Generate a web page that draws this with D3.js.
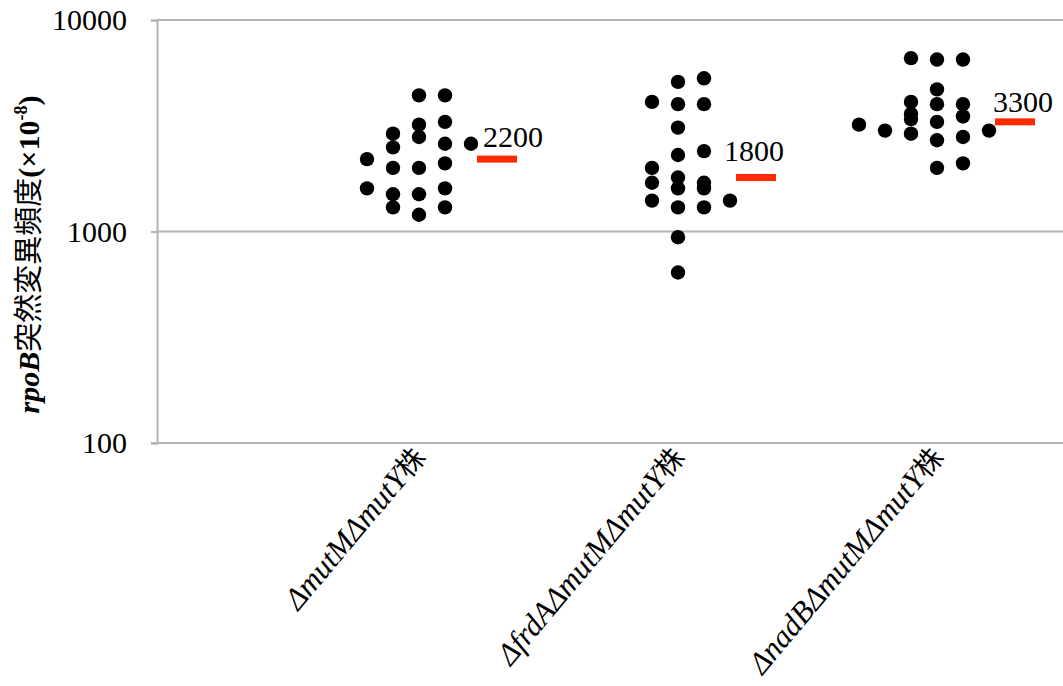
<!DOCTYPE html>
<html><head><meta charset="utf-8">
<script src="https://cdn.jsdelivr.net/npm/d3@7"></script>
<style>body{margin:0;background:#fff}svg{display:block}</style>
</head><body>
<script>
// ---- data ----
const categories = ["ΔmutMΔmutY", "ΔfrdAΔmutMΔmutY", "ΔnadBΔmutMΔmutY"];
const categorySuffix = "株";
const yTicks = [100, 1000, 10000];
const values1 = [2200,1600, 2900,2500,2000,1500,1300, 4400,3200,2800,2000,1500,1200, 4400,3300,2600,2100,1600,1300, 2600];
const slots1  = [-2,-2, -1,-1,-1,-1,-1, 0,0,0,0,0,0, 1,1,1,1,1,1, 2];
const values2 = [4100,2000,1700,1400, 5100,4000,3100,2300,1800,1600,1300,940,640, 5300,4000,2400,1700,1600,1300, 1400];
const slots2  = [-1,-1,-1,-1, 0,0,0,0,0,0,0,0,0, 1,1,1,1,1,1, 2];
const values3 = [3200, 3000, 6600,4100,3600,3400,2900, 6500,4700,4000,3300,2700,2000, 6500,4000,3500,2800,2100, 3000];
const slots3  = [-3, -2, -1,-1,-1,-1,-1, 0,0,0,0,0,0, 1,1,1,1,1, 2];
const summary = [2200, 1800, 3300];
const summaryLabels = ["2200", "1800", "3300"];

// ---- layout ----
const W = 1063, H = 686;
const mLeft = 157, mRight = 1063, mTop = 20, mBottom = 443;
const svg = d3.select("body").append("svg").attr("width", W).attr("height", H);

const x = d3.scalePoint().domain(categories).range([419, 937]);
const y = d3.scaleLog().domain([100, 10000]).range([mBottom, mTop]);
const slotW = 26;

// gridlines
svg.append("g").selectAll("line").data(yTicks.slice(1)).join("line")
  .attr("x1", mLeft).attr("x2", mRight)
  .attr("y1", d => y(d)).attr("y2", d => y(d))
  .attr("stroke", "#b3b3b3").attr("stroke-width", 2);

// y axis
const yAxis = svg.append("g").attr("transform", `translate(${mLeft},0)`)
  .call(d3.axisLeft(y).tickValues(yTicks).tickFormat(d3.format("d")).tickSize(6).tickPadding(24));
yAxis.select(".domain").attr("stroke", "#b3b3b3").attr("stroke-width", 2);
yAxis.selectAll(".tick line").attr("stroke", "#b3b3b3").attr("stroke-width", 2);
yAxis.selectAll(".tick text").attr("font-family", "'Liberation Serif', 'Times New Roman', serif")
  .attr("font-size", 30).attr("fill", "#000");

// x axis
const xAxis = svg.append("g").attr("transform", `translate(0,${mBottom})`)
  .call(d3.axisBottom(x).tickSize(0).tickFormat(""));
xAxis.select(".domain").attr("d", `M${mLeft - 6},0H${mRight}`)
  .attr("stroke", "#b3b3b3").attr("stroke-width", 2);

// x labels
const xl = svg.append("g");
categories.forEach(c => {
  const t = xl.append("text")
    .attr("transform", `translate(${x(c) + 8},${mBottom + 15}) rotate(-50)`)
    .attr("text-anchor", "end")
    .attr("font-family", "'Liberation Serif', 'Times New Roman', serif")
    .attr("font-size", 31).attr("fill", "#000");
  t.append("tspan").attr("font-style", "italic").text(c);
  t.append("tspan").attr("font-family", "'Noto Sans CJK JP', sans-serif").attr("font-size", 28).text(categorySuffix);
});

// dots
const groups = [[values1, slots1], [values2, slots2], [values3, slots3]];
groups.forEach(([vals, slots], gi) => {
  const cx = x(categories[gi]);
  svg.append("g").selectAll("circle").data(vals).join("circle")
    .attr("cx", (d, i) => cx + slots[i] * slotW)
    .attr("cy", d => y(d))
    .attr("r", 7.2).attr("fill", "#000");
});

// summary bars and labels
svg.append("g").selectAll("rect").data(summary).join("rect")
  .attr("x", (d, i) => x(categories[i]) + 58)
  .attr("y", d => y(d) - 3.5)
  .attr("width", 40).attr("height", 7)
  .attr("fill", "#ff2a00");
const labelNudge = [[64, -12], [46, -17], [56, -10]];
svg.append("g").selectAll("text").data(summary).join("text")
  .attr("x", (d, i) => x(categories[i]) + labelNudge[i][0])
  .attr("y", (d, i) => y(d) + labelNudge[i][1])
  .attr("font-family", "'Liberation Serif', 'Times New Roman', serif")
  .attr("font-size", 30).attr("fill", "#000")
  .text((d, i) => summaryLabels[i]);

// y title
const yt = svg.append("text")
  .attr("transform", `translate(39,${(87 + 422) / 2}) rotate(-90)`)
  .attr("text-anchor", "middle")
  .attr("font-family", "'Liberation Serif', 'Times New Roman', serif")
  .attr("font-size", 30).attr("font-weight", "bold").attr("fill", "#000");
yt.append("tspan").attr("font-style", "italic").text("rpoB");
yt.append("tspan").attr("font-family", "'Noto Sans CJK JP', sans-serif").attr("font-weight", "normal").attr("font-size", 29).text("突然変異頻度");
yt.append("tspan").text("(×10");
yt.append("tspan").attr("font-size", 18).attr("dy", -12).text("-8");
yt.append("tspan").attr("dy", 12).text(")");
</script>
</body></html>
